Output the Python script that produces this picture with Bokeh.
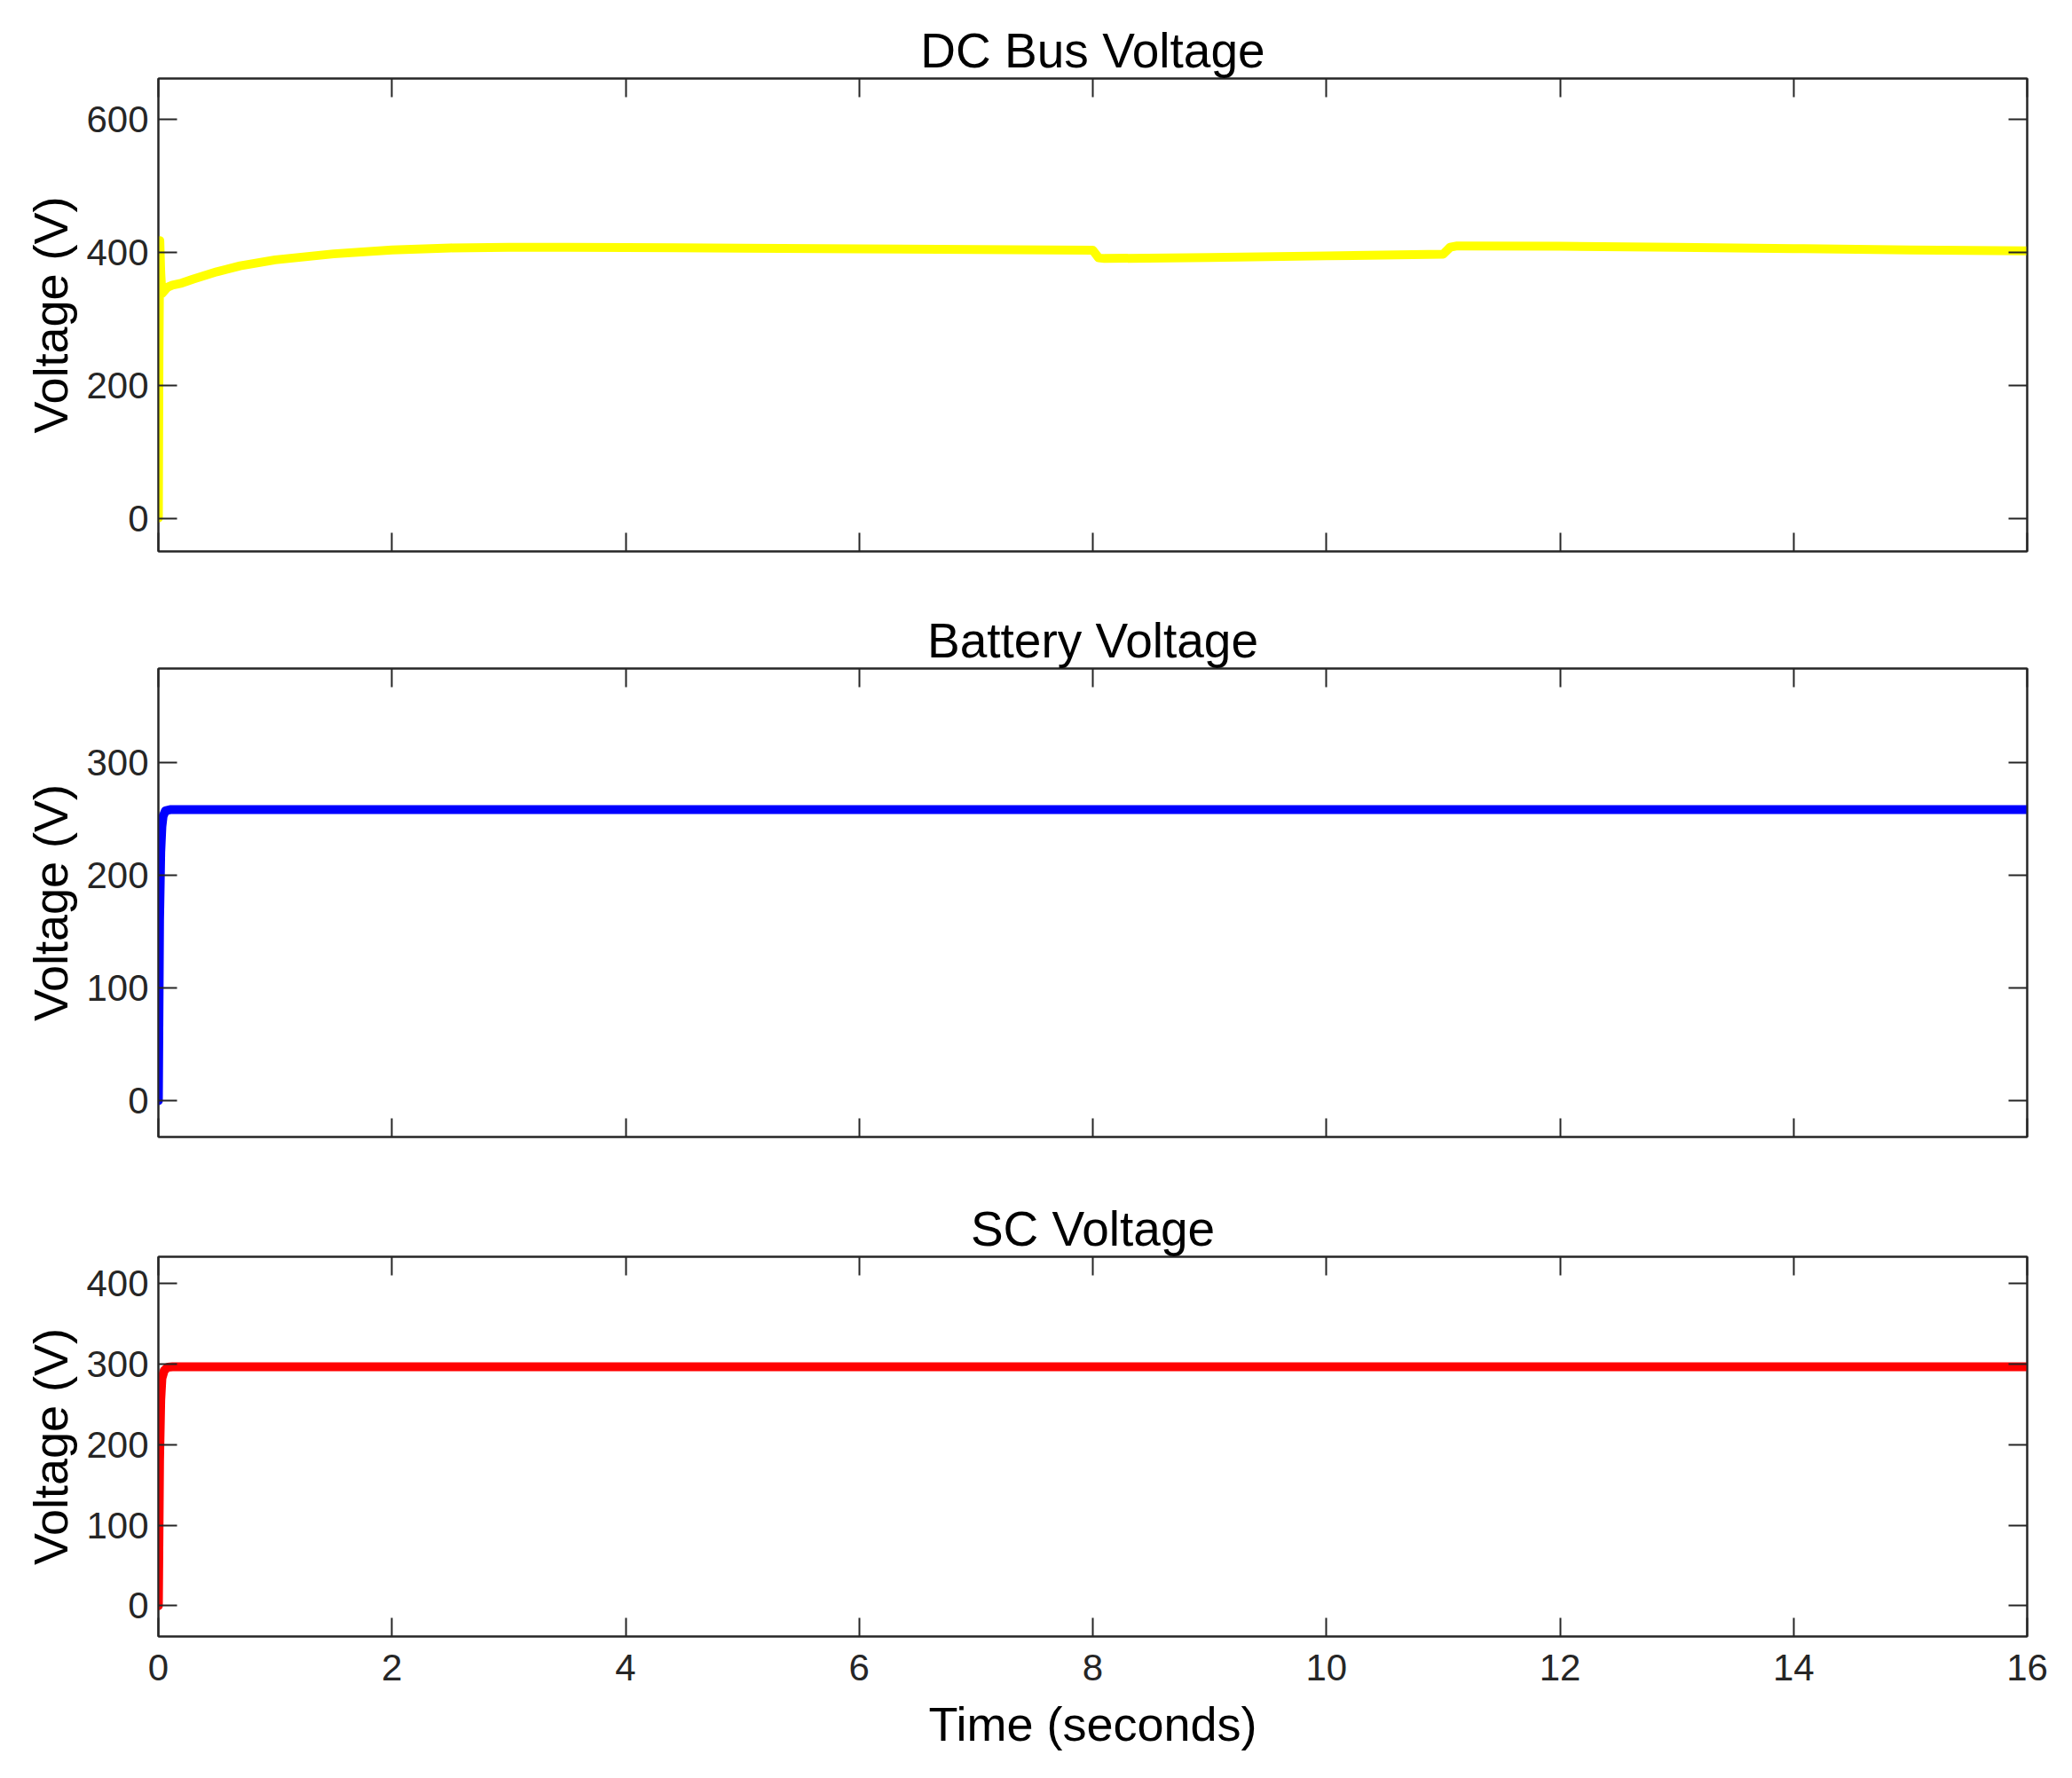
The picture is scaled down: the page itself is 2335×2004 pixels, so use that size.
from bokeh.plotting import figure
from bokeh.models import LinearAxis, FixedTicker, Range1d
from bokeh.layouts import column
from bokeh.embed import file_html
from bokeh.resources import INLINE

# ---- data ----
dc_t = [0, 0.005, 0.012, 0.02, 0.03, 0.05, 0.08, 0.12, 0.2, 0.3, 0.5, 0.7, 1.0, 1.5, 2.0, 2.5, 3.0, 3.5,
        4.0, 5.0, 6.0, 7.0, 8.0, 8.05, 8.1, 9.0, 10.0, 11.0, 11.06, 11.12, 12.0, 13.0, 14.0, 15.0, 16.0]
dc_v = [0, 250, 418, 370, 338, 342, 348, 351, 354, 360, 371, 380, 389, 398, 404, 407, 408, 408,
        407.5, 406.5, 405.5, 404.5, 403.5, 392, 391, 392.5, 395, 397.5, 408, 410, 409.5, 408, 406, 404, 402.5]

bat_t = [0, 0.01, 0.02, 0.03, 0.04, 0.06, 0.1, 4, 8, 12, 16]
bat_v = [0, 160, 220, 243, 252, 257, 258, 258, 258, 258, 258]

sc_t = [0, 0.01, 0.02, 0.03, 0.05, 0.08, 0.12, 4, 8, 12, 16]
sc_v = [0, 180, 255, 282, 292, 296, 296.5, 296.5, 296.5, 296.5, 296.5]

x_ticks = [0, 2, 4, 6, 8, 10, 12, 14, 16]
panels = [
    dict(title="DC Bus Voltage", t=dc_t, v=dc_v, color="#FFFF00", yr=(-50, 662), yt=[0, 200, 400, 600]),
    dict(title="Battery Voltage", t=bat_t, v=bat_v, color="#0000FF", yr=(-32, 383), yt=[0, 100, 200, 300]),
    dict(title="SC Voltage", t=sc_t, v=sc_v, color="#FF0000", yr=(-38, 433), yt=[0, 100, 200, 300, 400]),
]

FONT = "Liberation Sans"
AX = "#262626"
W = 2328
layout_spec = [
    dict(height=651, top=88, bottom=30, xlabels=False),
    dict(height=660, top=102, bottom=30, xlabels=False),
    dict(height=683, top=105, bottom=150, xlabels=True),
]


def style_axis(ax, show_labels, tick_len=21):
    ax.axis_line_color = AX
    ax.axis_line_width = 2
    ax.major_tick_line_color = AX
    ax.major_tick_line_width = 2
    ax.major_tick_in = tick_len
    ax.major_tick_out = 0
    ax.minor_tick_line_color = None
    ax.major_label_text_font = FONT
    ax.major_label_text_color = AX
    if show_labels:
        ax.major_label_text_font_size = "42px"
    else:
        ax.major_label_text_font_size = "0px"
        ax.major_label_standoff = 0


figs = []
for pnl, ls in zip(panels, layout_spec):
    p = figure(width=W, height=ls["height"], output_backend="svg", toolbar_location=None,
               x_range=Range1d(0, 16), y_range=Range1d(*pnl["yr"]),
               min_border_left=178, min_border_right=44,
               min_border_top=ls["top"], min_border_bottom=ls["bottom"])
    p.title.text = pnl["title"]
    p.title.align = "center"
    p.title.text_font = FONT
    p.title.text_font_size = "55px"
    p.title.text_font_style = "normal"
    p.title.text_color = "#000000"
    p.title.standoff = 1
    p.xgrid.grid_line_color = None
    p.ygrid.grid_line_color = None
    p.outline_line_color = AX
    p.outline_line_width = 2
    p.background_fill_color = "white"
    p.border_fill_color = "white"

    p.line(pnl["t"], pnl["v"], line_color=pnl["color"], line_width=10,
           line_join="round", line_cap="round")

    # left axis
    la = p.yaxis[0]
    la.ticker = FixedTicker(ticks=pnl["yt"])
    style_axis(la, True)
    la.major_label_standoff = 11
    la.axis_label = "Voltage (V)"
    la.axis_label_text_font = FONT
    la.axis_label_text_font_size = "54px"
    la.axis_label_text_font_style = "normal"
    la.axis_label_text_color = "#000000"
    la.axis_label_standoff = 7

    # bottom axis
    ba = p.xaxis[0]
    ba.ticker = FixedTicker(ticks=x_ticks)
    style_axis(ba, ls["xlabels"])
    if ls["xlabels"]:
        ba.major_label_standoff = 20
        ba.axis_label = "Time (seconds)"
        ba.axis_label_text_font = FONT
        ba.axis_label_text_font_size = "54px"
        ba.axis_label_text_font_style = "normal"
        ba.axis_label_text_color = "#000000"
        ba.axis_label_standoff = 16
    else:
        ba.major_label_overrides = {t: "" for t in x_ticks}

    # right and top mirror axes (ticks only)
    ra = LinearAxis(ticker=FixedTicker(ticks=pnl["yt"]))
    style_axis(ra, False)
    ra.major_label_overrides = {t: "" for t in pnl["yt"]}
    p.add_layout(ra, "right")
    ta = LinearAxis(ticker=FixedTicker(ticks=x_ticks))
    style_axis(ta, False)
    ta.major_label_overrides = {t: "" for t in x_ticks}
    p.add_layout(ta, "above")

    figs.append(p)

lay = column(*figs, spacing=0)
open("out.html", "w").write(file_html(lay, INLINE))
